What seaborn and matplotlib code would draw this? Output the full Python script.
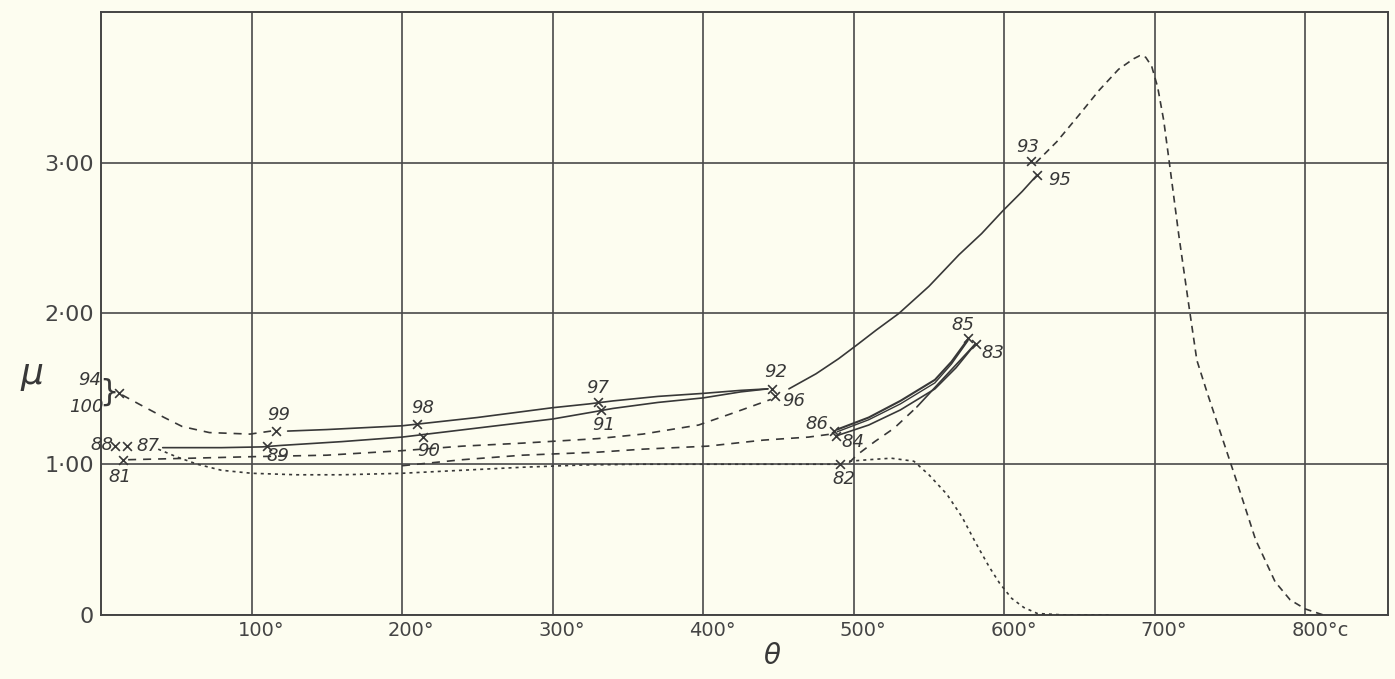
import matplotlib
matplotlib.use("Agg")
import matplotlib.pyplot as plt
import matplotlib.transforms as mtransforms
import seaborn as sns

# observation points (temperature in deg C, permeability mu)
pt_labels = ['94', '88', '87', '81', '99', '89', '98', '90', '97', '91',
             '92', '96', '86', '84', '82', '85', '83', '93', '95']
pt_T = [12, 9, 17, 14.5, 116, 110, 210, 214, 330, 332,
        446, 448, 487, 488, 491, 576, 581, 618, 622]
pt_mu = [1.475, 1.12, 1.12, 1.03, 1.22, 1.12, 1.27, 1.18, 1.41, 1.36,
         1.50, 1.45, 1.22, 1.19, 1.00, 1.84, 1.80, 3.01, 2.92]

# solid curve 92/96 -> 95
rise_T = [457, 475, 490, 502, 515, 530, 550, 570, 585, 599, 612, 622]
rise_mu = [1.50, 1.60, 1.70, 1.79, 1.89, 2.00, 2.18, 2.39, 2.53, 2.68, 2.81, 2.92]

# dashed curve 93 -> peak -> 0
peak_T = [621, 635, 650, 663, 676, 686, 690, 694, 698, 702, 706, 710, 716, 722,
          728, 735, 745, 755, 767, 780, 790, 800, 812]
peak_mu = [3.00, 3.14, 3.32, 3.48, 3.62, 3.69, 3.71, 3.70, 3.64, 3.50, 3.28,
           2.98, 2.52, 2.10, 1.69, 1.47, 1.17, 0.87, 0.50, 0.22, 0.10, 0.04, 0.0]

# fine dotted curve from 82 falling to 0
fall_T = [497, 510, 525, 540, 550, 562, 572, 581, 590, 597, 605, 613, 622, 640, 670]
fall_mu = [1.02, 1.03, 1.04, 1.02, 0.93, 0.80, 0.65, 0.48, 0.32, 0.21, 0.11,
           0.05, 0.01, 0.0, 0.0]

# 82 -> 83 (dashed then solid)
b82_T = [497, 502, 514, 527, 542]
b82_mu = [1.01, 1.06, 1.15, 1.24, 1.38]
s82_T = [542, 555, 568, 581]
s82_mu = [1.38, 1.52, 1.66, 1.80]

# 86 -> 85 (double line) and 84 -> 83
l86a_T = [489, 510, 531, 554, 565, 576]
l86a_mu = [1.23, 1.31, 1.42, 1.56, 1.68, 1.83]
l86b_T = [489, 510, 531, 554, 565, 576]
l86b_mu = [1.215, 1.295, 1.40, 1.54, 1.665, 1.82]
l84_T = [489, 510, 531, 554, 568, 581]
l84_mu = [1.19, 1.26, 1.36, 1.50, 1.64, 1.80]

# solid lines 99 -> 98 -> 97 -> 92 and 87 -> 89 -> 90 -> 91 -> 92
up_T = [124, 150, 200, 250, 300, 324, 340, 370, 400, 425, 443]
up_mu = [1.22, 1.23, 1.255, 1.31, 1.375, 1.40, 1.42, 1.45, 1.47, 1.49, 1.50]
lo_T = [41, 80, 107, 120, 160, 200, 250, 300, 326, 340, 370, 400, 425, 443]
lo_mu = [1.11, 1.11, 1.115, 1.125, 1.15, 1.18, 1.24, 1.30, 1.345, 1.37, 1.41,
         1.44, 1.48, 1.50]

# dashed lines
d94_T = [14, 26, 42, 54, 72, 99, 113]
d94_mu = [1.46, 1.395, 1.31, 1.25, 1.21, 1.20, 1.22]
d96_T = [18, 60, 100, 150, 200, 240, 280, 330, 360, 397, 420, 445]
d96_mu = [1.03, 1.04, 1.05, 1.06, 1.09, 1.12, 1.14, 1.17, 1.20, 1.26, 1.34, 1.43]
d86_T = [200, 240, 280, 330, 360, 403, 440, 470, 485]
d86_mu = [0.99, 1.03, 1.06, 1.08, 1.10, 1.12, 1.16, 1.18, 1.20]
dip_T = [38, 50, 64, 80, 100, 130, 160, 200, 240, 280, 320, 360, 420, 489]
dip_mu = [1.10, 1.05, 1.00, 0.96, 0.94, 0.93, 0.93, 0.94, 0.96, 0.98, 0.995,
          1.0, 1.0, 1.0]

x_ticks = [100, 200, 300, 400, 500, 600, 700, 800]
x_ticklabels = ['100°', '200°', '300°', '400°', '500°', '600°', '700°', '800°c']
y_ticks = [0, 1, 2, 3]
y_ticklabels = ['0', '1·00', '2·00', '3·00']

# label offsets in pixels (label centre relative to its marker)
label_offsets = {
    '94': (-29, 13), '88': (-13, 1), '87': (21, 0), '81': (-3, -17),
    '99': (3, 16), '89': (11, -10), '98': (6, 16), '90': (6, -14),
    '97': (0, 14), '91': (3, -15), '92': (3, 17), '96': (18, -5),
    '86': (-17, 7), '84': (17, -6), '82': (4, -15), '85': (-5, 13),
    '83': (17, -9), '93': (-4, 14), '95': (22, -5),
}

ink = '#383838'
paper = '#fdfdf0'

sns.set_theme(style="white")
plt.rcParams['lines.scale_dashes'] = False
plt.rcParams['font.family'] = ['DejaVu Sans']

fig = plt.figure(figsize=(13.95, 6.79), dpi=100)
fig.patch.set_facecolor(paper)
ax = fig.add_axes([0.0724, 0.0943, 0.9226, 0.888])
ax.set_facecolor(paper)

long_dash = (0, (5.8, 5.0))
mid_dash = (0, (5.0, 3.6))
fine_dash = (0, (2.2, 2.9))

def curve(T, mu, ls='-', lw=1.2):
    sns.lineplot(x=T, y=mu, ax=ax, color=ink, lw=lw, linestyle=ls,
                 sort=False, estimator=None, zorder=3)

curve(rise_T, rise_mu)
curve(peak_T, peak_mu, mid_dash)
curve(fall_T, fall_mu, fine_dash)
curve(b82_T, b82_mu, long_dash)
curve(s82_T, s82_mu)
curve(l86a_T, l86a_mu, lw=1.5)
curve(l86b_T, l86b_mu, lw=1.0)
curve(l84_T, l84_mu)
curve(up_T, up_mu)
curve(lo_T, lo_mu)
curve(d94_T, d94_mu, long_dash)
curve(d96_T, d96_mu, long_dash)
curve(d86_T, d86_mu, long_dash)
curve(dip_T, dip_mu, fine_dash)

sns.scatterplot(x=pt_T, y=pt_mu, ax=ax, marker='x', s=40, color=ink,
                linewidth=1.2, zorder=4)

for lbl, T, mu in zip(pt_labels, pt_T, pt_mu):
    ax.annotate(lbl, (T, mu), xytext=label_offsets[lbl], textcoords='offset pixels',
                ha='center', va='center', fontsize=13, style='italic', color=ink)
ax.annotate('100', (pt_T[0], pt_mu[0]), xytext=(-33, -14), textcoords='offset pixels',
            ha='center', va='center', fontsize=13, style='italic', color=ink)
ax.annotate('}', (pt_T[0], pt_mu[0]), xytext=(-10, 0), textcoords='offset pixels',
            ha='center', va='center', fontsize=22, color=ink)

ax.set_xlim(0, 855)
ax.set_ylim(0, 4.0)
ax.set_xticks(x_ticks)
ax.set_xticklabels(x_ticklabels)
ax.set_yticks(y_ticks)
ax.set_yticklabels(y_ticklabels)
ax.tick_params(axis='x', length=0, pad=4, labelsize=14, labelcolor='#444')
ax.tick_params(axis='y', length=0, pad=5, labelsize=16, labelcolor='#444')
shift = mtransforms.ScaledTranslation(-14 / 100, 0, fig.dpi_scale_trans)
for t in ax.get_xticklabels():
    t.set_ha('left')
    t.set_transform(t.get_transform() + shift)

ax.grid(True, color='#4a4a4a', lw=1.2)
ax.set_axisbelow(True)
for sp in ax.spines.values():
    sp.set_visible(True)
    sp.set_color('#444')
    sp.set_linewidth(1.4)

ax.set_xlabel('θ', fontsize=20, style='italic', color=ink)
ax.xaxis.set_label_coords(0.521, -0.045)
ax.set_ylabel('μ', fontsize=26, style='italic', color=ink, rotation=0, va='center')
ax.yaxis.set_label_coords(-0.054, 0.40)

fig.savefig('out.png', dpi=100, facecolor=paper)
